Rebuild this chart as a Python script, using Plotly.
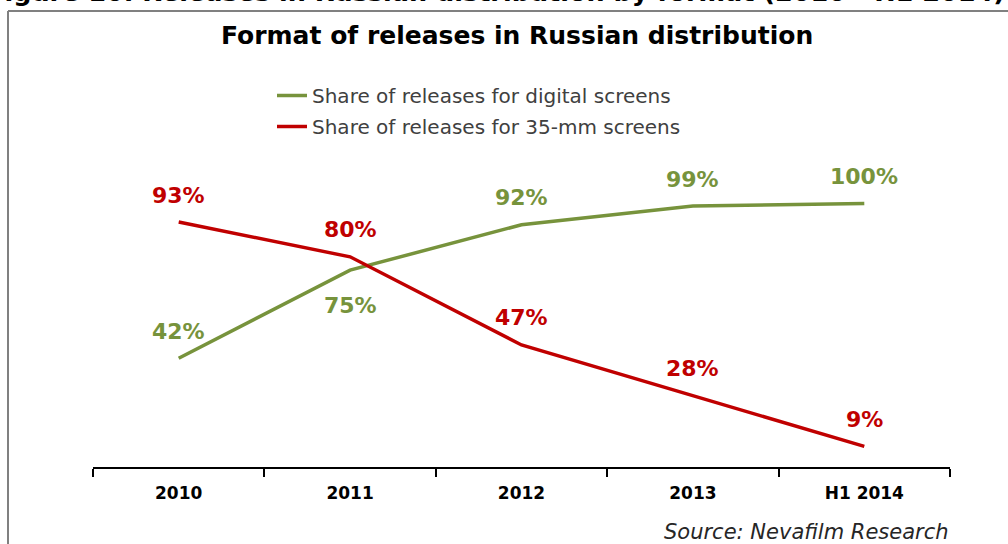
import plotly.graph_objects as go

# Release formats in Russian distribution, share of all releases (%)
periods = ["2010", "2011", "2012", "2013", "H1 2014"]
digital_share = [42, 75, 92, 99, 100]
film_35mm_share = [93, 80, 47, 28, 9]

GREEN = "#77933C"
RED = "#C00000"
FONT = "DejaVu Sans"

W, H = 1008, 544
M_L, M_R, M_T, M_B = 93, 58, 170, 77
PLOT_W = W - M_L - M_R
PLOT_H = H - M_T - M_B


def px_x(px):
    return (px - M_L) / PLOT_W


def px_y(py):
    return (H - M_B - py) / PLOT_H


fig = go.Figure()
fig.add_trace(go.Scatter(
    x=periods, y=digital_share, mode="lines",
    name="Share of releases for digital screens",
    line=dict(color=GREEN, width=3.5), legendgroup="digital",
))
fig.add_trace(go.Scatter(
    x=periods, y=film_35mm_share, mode="lines",
    name="Share of releases for 35-mm screens",
    line=dict(color=RED, width=3.5), legendgroup="film",
))

annotations = []
# value labels (x given as category index): above each point,
# except the 2011 digital value which sits below the line
for i, v in enumerate(digital_share):
    annotations.append(dict(
        x=i, y=v, text=f"{v}%", showarrow=False,
        yshift=-35 if i == 1 else 27,
        font=dict(family=FONT, size=22, color=GREEN, weight="bold"),
    ))
for i, v in enumerate(film_35mm_share):
    annotations.append(dict(
        x=i, y=v, text=f"{v}%", showarrow=False, yshift=27,
        font=dict(family=FONT, size=22, color=RED, weight="bold"),
    ))

# chart title
annotations.append(dict(
    xref="paper", yref="paper", x=px_x(517), y=px_y(35),
    xanchor="center", yanchor="middle", showarrow=False,
    text="Format of releases in Russian distribution",
    font=dict(family=FONT, size=25, color="#000000", weight="bold"),
))
# figure caption running off the top edge
annotations.append(dict(
    xref="paper", yref="paper", x=px_x(-15), y=px_y(9),
    xanchor="left", yanchor="bottom", showarrow=False,
    text="Figure 10. Releases in Russian distribution by format (2010 - H1 2014)",
    font=dict(family=FONT, size=25.5, color="#000000", weight="bold"),
))
# source note
annotations.append(dict(
    xref="paper", yref="paper", x=px_x(951), y=px_y(532),
    xanchor="right", yanchor="middle", showarrow=False,
    text="<i>Source: Nevafilm Research</i>",
    font=dict(family=FONT, size=21, color="#262626"),
))

# frame lines along the top and left edge
shapes = [
    dict(type="line", xref="paper", yref="paper",
         x0=px_x(8), x1=px_x(1010), y0=px_y(11), y1=px_y(11),
         line=dict(color="#808080", width=2)),
    dict(type="line", xref="paper", yref="paper",
         x0=px_x(8), x1=px_x(8), y0=px_y(11), y1=px_y(546),
         line=dict(color="#808080", width=2)),
]

fig.update_layout(
    width=W, height=H,
    margin=dict(l=M_L, r=M_R, t=M_T, b=M_B, pad=0),
    paper_bgcolor="white", plot_bgcolor="white",
    showlegend=True,
    legend=dict(
        x=px_x(272), y=px_y(76), xanchor="left", yanchor="top",
        traceorder="grouped", tracegroupgap=2,
        font=dict(family=FONT, size=20, color="#404040"),
        bgcolor="rgba(0,0,0,0)", itemwidth=30,
    ),
    xaxis=dict(
        type="category", tickson="boundaries",
        showline=True, linecolor="#000000", linewidth=2,
        ticks="outside", ticklen=8, tickwidth=2, tickcolor="#000000",
        ticklabelstandoff=10,
        showgrid=False, zeroline=False,
        tickfont=dict(family=FONT, size=17, color="#000000", weight="bold"),
        range=[-0.5, 4.5],
    ),
    yaxis=dict(
        range=[1.3, 112.5], visible=False, showgrid=False, zeroline=False,
    ),
    annotations=annotations,
    shapes=shapes,
)

fig.write_html("out.html")
